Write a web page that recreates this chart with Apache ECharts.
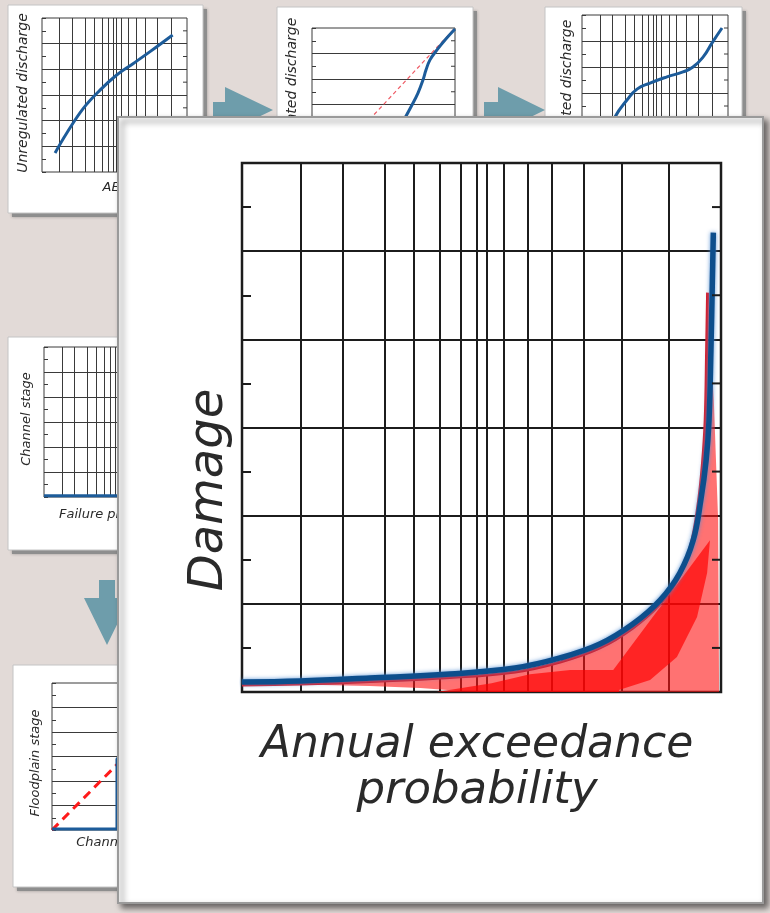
<!DOCTYPE html>
<html><head><meta charset="utf-8">
<script src="https://cdn.jsdelivr.net/npm/echarts@6/dist/echarts.min.js"></script>
<style>html,body{margin:0;padding:0;background:#e2dad7;overflow:hidden}#c{width:770px;height:913px;}</style>
</head><body><div id="c"></div>
<script>
// ---------- DATA ----------
// probability-paper grid positions (percent of axis width)
const probGrid = [12.2, 21.0, 29.9, 35.9, 41.3, 45.6, 49.1, 51.1, 54.6, 59.7, 64.7, 71.4, 79.3, 89.1];
// horizontal grid lines (value units) and minor tick values
const yGrid = [1, 2, 3, 4, 5];
const yMinorTicks = [0.5, 1.5, 2.5, 3.5, 4.5, 5.5];
const yMax = 6;
const yTickStep = 0.5;

// Panel 1: AEP vs unregulated discharge
const unregDischarge = [[9.0,0.74],[17.0,1.51],[28.5,2.48],[40.0,3.19],[51.5,3.78],[63.0,4.23],[74.5,4.69],[90.1,5.34]];
// Panel 2: unregulated vs regulated discharge
const regTransform = [[0,0.04],[12.6,0.12],[33.6,0.51],[47.6,1.14],[58.0,1.80],[65.0,2.47],[69.9,2.98],[74.1,3.45],[77.6,3.96],[79.7,4.35],[82.5,4.75],[87.4,5.14],[93.0,5.53],[100,5.96]];
const identityLine = [[0,0],[100,6]];
// Panel 3: AEP vs regulated discharge
const regDischarge = [[11.0,0.23],[15.8,1.19],[22.6,2.08],[30.8,2.73],[37.7,3.15],[46.6,3.38],[58.2,3.62],[69.2,3.81],[76.0,4.0],[82.9,4.38],[89.0,4.92],[95.9,5.5]];
// Panel 4: failure probability vs channel stage
const channelStage = [[0,0.05],[100,0.05]];
// Panel 5: channel stage vs floodplain stage
const floodplainStage = [[0,0.04],[44.5,0.04],[44.5,2.9],[60,3.6],[100,6]];
// Main: AEP vs damage
const damageCurve = [[0,0.113],[12.1,0.125],[26.7,0.159],[43.4,0.204],[57.0,0.272],[66.4,0.386],[74.7,0.544],[81.6,0.771],[87.3,1.043],[91.4,1.35],[94.2,1.72],[95.8,2.18],[96.9,2.63],[97.5,3.08],[97.9,3.88],[98.2,4.67],[98.4,5.21]];
const damageRed = [[0,0.079],[12.1,0.091],[26.7,0.119],[43.4,0.164],[57.0,0.227],[66.4,0.34],[74.7,0.50],[81.6,0.726],[87.3,1.0],[91.2,1.30],[93.7,1.67],[95.2,2.12],[96.1,2.57],[96.7,3.08],[97.0,3.88],[97.2,4.53]];
const damageAreaEdge = [[98.5,3.31],[99.4,1.95],[99.6,0],[52,0],[45.7,0.011],[37.2,0.045],[26.7,0.068],[12.1,0.085],[0,0.079]];
const uncertaintyBand = [[40.6,0],[52.1,0.1],[60.1,0.2],[68.5,0.25],[77.5,0.25],[97.7,1.72],[97.1,1.35],[95.0,0.85],[90.8,0.397],[85.2,0.136],[78.7,0.023],[78.7,0]];

// ---------- LAYOUT ----------
const FONT = '"DejaVu Sans", Verdana, sans-serif';
const grids = [
  {left:42, top:18, width:145, height:154, prob:true, lw:1},   // card1
  {left:312, top:28, width:143, height:153, prob:false, lw:1}, // card2
  {left:582, top:15, width:146, height:156, prob:true, lw:1},  // card3
  {left:44, top:347, width:146, height:150, prob:true, lw:1},  // card4
  {left:52, top:683, width:146, height:147, prob:false, lw:1}, // card5
  {left:242, top:163, width:479, height:529, prob:true, lw:2, main:true}
];

const option = {animation:false, backgroundColor:'#e2dad7', grid:[], xAxis:[], yAxis:[], series:[], graphic:{elements:[]}};
const yIdx = [];
grids.forEach((g,i)=>{
  const zl = g.main ? 1 : 0;
  const col = g.main ? '#1c1c1c' : '#3a3a3a';
  const tickLen = g.main ? 9 : 4;
  option.grid.push({left:g.left, top:g.top, width:g.width, height:g.height, show:true, borderColor:col, borderWidth:g.main?2.5:1, backgroundColor:'#fff', zlevel:zl, z: g.main?2:1});
  option.xAxis.push({type:'value', gridIndex:i, min:0, max:100, show:false, zlevel:zl});
  yIdx.push(option.yAxis.length);
  option.yAxis.push({type:'value', gridIndex:i, position:'left', min:0, max:yMax, interval:yTickStep, axisLine:{show:false, onZero:false},
    axisTick:{show:true, inside:true, length:tickLen, lineStyle:{color:col, width:g.lw}}, axisLabel:{show:false}, splitLine:{show:false}, zlevel:zl, z: g.main?3:2});
  const lines = yGrid.map(v=>({yAxis:v})).concat(g.prob ? probGrid.map(v=>({xAxis:v})) : []);
  option.series.push({type:'line', xAxisIndex:i, yAxisIndex:yIdx[i], data:[[0,0]], symbol:'none', lineStyle:{opacity:0}, silent:true,
    zlevel:zl, z: g.main?3:2,
    markLine:{silent:true, zlevel:zl, z: g.main?3:2, symbol:'none', label:{show:false}, lineStyle:{type:'solid', color:col, width:g.lw},
      data: lines}});
  // right-side inward ticks at the minor tick values
  option.series.push({type:'custom', xAxisIndex:i, yAxisIndex:yIdx[i], data: yMinorTicks.map(v=>[100, v]), silent:true, clip:false,
    zlevel:zl, z: g.main?8:4,
    renderItem:(params, api)=>{
      const p = api.coord([api.value(0), api.value(1)]);
      return {type:'line', shape:{x1:p[0], y1:p[1], x2:p[0]-tickLen, y2:p[1]}, style:{stroke:col, lineWidth:g.lw}};
    }});
});

function lineS(gi, data, color, width, extra){
  return Object.assign({type:'line', xAxisIndex:gi, yAxisIndex:yIdx[gi], data, symbol:'none', smooth:0.4,
    lineStyle:{color, width}, zlevel: gi===5?1:0, z: gi===5?7:3}, extra||{});
}
function polyS(gi, pts, fill, z){
  return {type:'custom', xAxisIndex:gi, yAxisIndex:yIdx[gi], data:[[0,0]], zlevel:1, z, silent:true,
    renderItem:(params, api)=>({type:'polygon', shape:{points: pts.map(p=>api.coord(p)), smooth:0}, style:{fill}})};
}
// mini panels
option.series.push(lineS(0, unregDischarge, '#1d5c9a', 3));
option.series.push(lineS(1, identityLine, '#ee5a64', 1.2, {smooth:false, lineStyle:{color:'#ee5a64', width:1.2, type:[4,3]}}));
option.series.push(lineS(1, regTransform, '#1d5c9a', 3));
option.series.push(lineS(2, regDischarge, '#1d5c9a', 3, {smooth:0.5}));
option.series.push(lineS(3, channelStage, '#1d5c9a', 3, {smooth:false}));
option.series.push(lineS(4, identityLine, '#ff1a1a', 3, {smooth:false, lineStyle:{color:'#ff1a1a', width:3, type:[9,6]}}));
option.series.push(lineS(4, floodplainStage, '#1d5c9a', 3, {smooth:false}));
// main
option.series.push(polyS(5, damageRed.concat(damageAreaEdge), 'rgba(255,20,20,0.6)', 4));
option.series.push(polyS(5, uncertaintyBand, 'rgba(255,0,0,0.68)', 5));
option.series.push(lineS(5, damageRed, '#e3141c', 3, {z:6}));
option.series.push(lineS(5, damageCurve, '#0d4e8c', 5.5, {z:7, lineStyle:{color:'#0d4e8c', width:5.5, shadowBlur:4, shadowColor:'rgba(80,140,210,0.9)'}}));

// ---------- DECORATION ----------
const E = option.graphic.elements;
function card(x,y,w,h){
  E.push({type:'rect', shape:{x:x+4,y:y+4,width:w,height:h}, style:{fill:'#8e8e8e', shadowBlur:3, shadowColor:'rgba(0,0,0,0.3)'}, zlevel:0, z:-20});
  E.push({type:'rect', shape:{x,y,width:w,height:h}, style:{fill:'#fff', stroke:'#c4c4c4', lineWidth:1}, zlevel:0, z:-19});
}
card(8,5,195,208);
card(277,7,196,210);
card(545,7,197,210);
card(8,337,195,213);
card(13,665,195,222);
const ARROW = '#6e9dab';
function arrow(pts){ E.push({type:'polygon', shape:{points:pts}, style:{fill:ARROW}, zlevel:0, z:-18}); }
arrow([[213,102],[225,102],[225,87],[273,110],[225,133],[225,118],[213,118]]);
arrow([[484,102],[498,102],[498,87],[545,110],[498,133],[498,118],[484,118]]);
arrow([[99,580],[115,580],[115,598],[130,598],[107,645],[84,598],[99,598]]);
function txt(t, x, y, size, rot, zl, extra){
  E.push(Object.assign({type:'text', x, y, rotation: rot||0, zlevel:zl, z:10,
    style:{text:t, font:'italic '+size+'px '+FONT, fill:'#2a2a2a', textAlign:'center', textVerticalAlign:'middle', align:'center', verticalAlign:'middle'}}, extra||{}));
}
txt('Unregulated discharge', 23, 93, 14, Math.PI/2, 0);
txt('AEP', 115, 188, 13, 0, 0);
txt('Regulated discharge', 292, 90, 14, Math.PI/2, 0);
txt('Regulated discharge', 567, 92, 14, Math.PI/2, 0);
txt('Channel stage', 27, 419, 13, Math.PI/2, 0);
txt('Failure probability', 118, 515, 13, 0, 0);
txt('Floodplain stage', 36, 763, 13, Math.PI/2, 0);
txt('Channel stage', 123, 843, 13, 0, 0);
// main panel
E.push({type:'rect', shape:{x:118,y:117,width:645,height:786}, style:{fill:'#fff', stroke:'#9a9a9a', lineWidth:2, shadowBlur:6, shadowOffsetX:4, shadowOffsetY:4, shadowColor:'rgba(0,0,0,0.55)'}, zlevel:1, z:-5});
txt('Damage', 210, 490, 48, Math.PI/2, 1);
txt('Annual exceedance', 477, 746, 44, 0, 1);
txt('probability', 477, 791, 45, 0, 1);

const chart = echarts.init(document.getElementById('c'), null, {renderer:'canvas'});
chart.setOption(option);
</script></body></html>
